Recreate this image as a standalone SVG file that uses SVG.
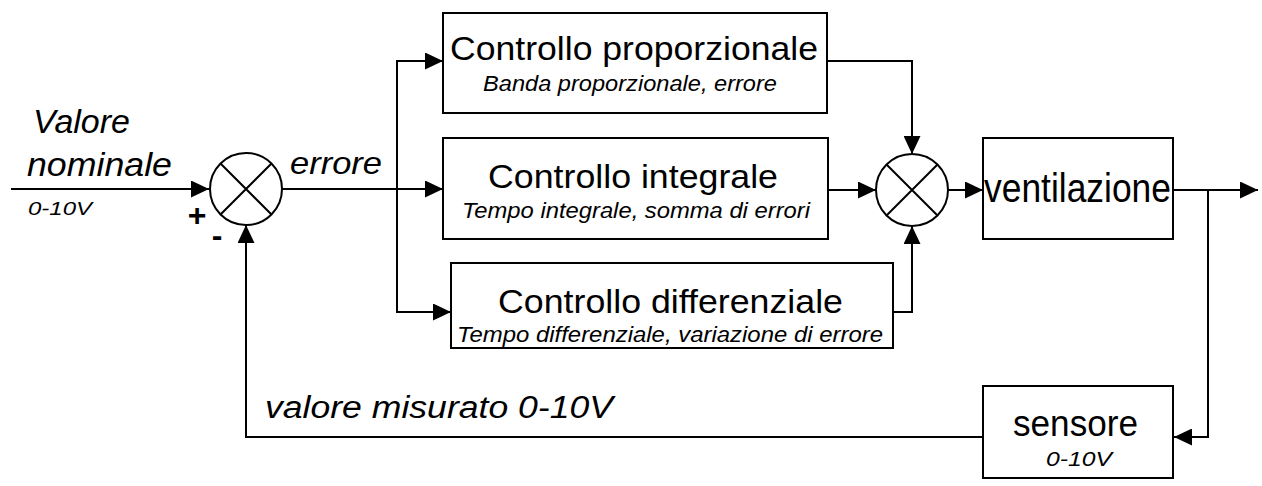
<svg xmlns="http://www.w3.org/2000/svg" width="1262" height="486" viewBox="0 0 1262 486">
<defs>
<marker id="ah" markerUnits="userSpaceOnUse" markerWidth="18" markerHeight="17" refX="18" refY="8.5" orient="auto"><path d="M0,0 L18,8.5 L0,17 z" fill="#000"/></marker>
</defs>
<style>
.box{fill:#fff;stroke:#000;stroke-width:2}
.sum{fill:#fff;stroke:#000;stroke-width:2}
.x{stroke:#000;stroke-width:2}
.ln{fill:none;stroke:#000;stroke-width:2;marker-end:url(#ah)}
.t{font-family:"Liberation Sans",Arial,sans-serif;fill:#000}
.it{font-style:italic}
.ti{font-size:34px}
.sub{font-size:22px;font-style:italic}
</style>
<rect width="1262" height="486" fill="#fff"/>
<g id="connectors">
<path class="ln" d="M11,189 H209"/>
<path class="ln" d="M282,189 H443"/>
<path class="ln" d="M397,189 V61 H443"/>
<path class="ln" d="M397,189 V312 H451"/>
<path class="ln" d="M827,61 H912 V154"/>
<path class="ln" d="M828,190 H876"/>
<path class="ln" d="M893,312 H912 V226"/>
<path class="ln" d="M948,190 H983"/>
<path class="ln" d="M1173,190 H1258"/>
<path class="ln" d="M1208,190 V437 H1174"/>
<path class="ln" d="M983,437 H246 V225"/>
</g>
<g id="labels">
<text class="t it" x="33" y="133" font-size="33" textLength="97" lengthAdjust="spacingAndGlyphs">Valore</text>
<text class="t it" x="27" y="176" font-size="33" textLength="145" lengthAdjust="spacingAndGlyphs">nominale</text>
<text class="t it" x="28" y="215" font-size="19" textLength="64" lengthAdjust="spacingAndGlyphs">0-10V</text>
<text class="t" x="197" y="226" font-size="32" font-weight="bold" text-anchor="middle">+</text>
<text class="t" x="217" y="246" font-size="32" font-weight="bold" text-anchor="middle">-</text>
<text class="t it" x="290" y="174" font-size="32" textLength="92" lengthAdjust="spacingAndGlyphs">errore</text>
<text class="t it" x="265" y="418" font-size="31" textLength="348" lengthAdjust="spacingAndGlyphs">valore misurato 0-10V</text>
</g>
<g id="sum1">
<circle class="sum" cx="246" cy="189" r="36"/>
<path class="x" d="M220.5,163.5 L271.5,214.5 M271.5,163.5 L220.5,214.5"/>
</g>
<g id="proporzionale">
<rect class="box" x="443" y="13" width="384" height="100"/>
<text class="t ti" x="450" y="60" textLength="368" lengthAdjust="spacingAndGlyphs">Controllo proporzionale</text>
<text class="t sub" x="483" y="91" textLength="294" lengthAdjust="spacingAndGlyphs">Banda proporzionale, errore</text>
</g>
<g id="integrale">
<rect class="box" x="443" y="138" width="385" height="101"/>
<text class="t ti" x="488" y="188" textLength="290" lengthAdjust="spacingAndGlyphs">Controllo integrale</text>
<text class="t sub" x="462" y="218" textLength="348" lengthAdjust="spacingAndGlyphs">Tempo integrale, somma di errori</text>
</g>
<g id="differenziale">
<rect class="box" x="451" y="263" width="442" height="85"/>
<text class="t ti" x="498" y="313" textLength="345" lengthAdjust="spacingAndGlyphs">Controllo differenziale</text>
<text class="t sub" x="457" y="342" textLength="426" lengthAdjust="spacingAndGlyphs">Tempo differenziale, variazione di errore</text>
</g>
<g id="sum2">
<circle class="sum" cx="912" cy="190" r="36"/>
<path class="x" d="M886.5,164.5 L937.5,215.5 M937.5,164.5 L886.5,215.5"/>
</g>
<g id="ventilazione">
<rect class="box" x="983" y="138" width="190" height="101"/>
<text class="t" x="984" y="202" font-size="41" textLength="187" lengthAdjust="spacingAndGlyphs">ventilazione</text>
</g>
<g id="sensore">
<rect class="box" x="983" y="386" width="190" height="92"/>
<text class="t" x="1013" y="436" font-size="36" textLength="125" lengthAdjust="spacingAndGlyphs">sensore</text>
<text class="t it" x="1046" y="466" font-size="21" textLength="66" lengthAdjust="spacingAndGlyphs">0-10V</text>
</g>
</svg>
